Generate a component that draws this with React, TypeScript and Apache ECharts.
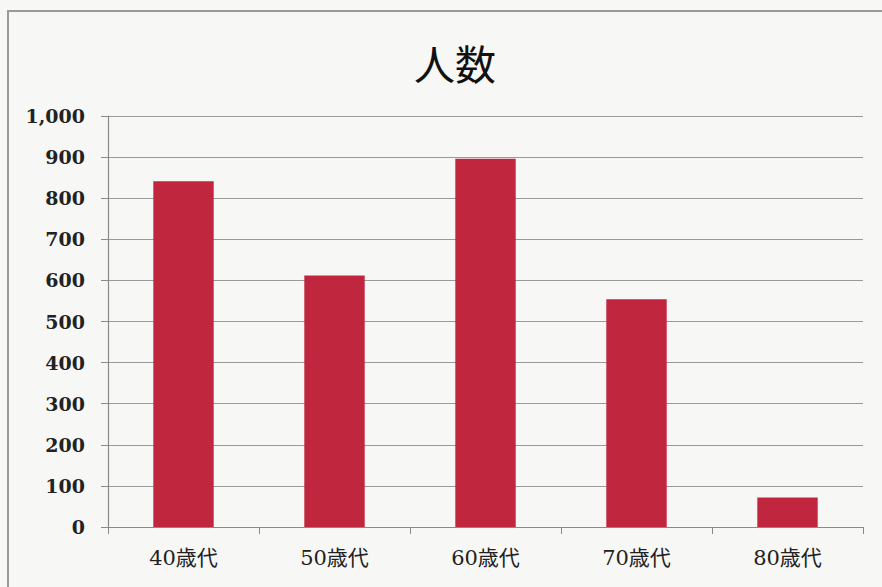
import React, { useEffect, useRef } from "react";
import * as echarts from "echarts";

const titleText = "人数";
const categories = ["40歳代", "50歳代", "60歳代", "70歳代", "80歳代"];
const counts = [841, 612, 896, 554, 72];
const yMin = 0;
const yMax = 1000;
const yStep = 100;

export default function App() {
  const ref = useRef<HTMLDivElement>(null);
  useEffect(() => {
    if (!ref.current) return;
    const chart = echarts.init(ref.current, null, { renderer: "svg" });
    chart.setOption({
      animation: false,
      backgroundColor: "#f7f7f6",
      title: {
        text: titleText,
        left: 409,
        top: 36,
        textStyle: {
          fontFamily: "'Noto Sans CJK JP', sans-serif",
          fontSize: 41,
          fontWeight: "normal",
          color: "#111",
        },
      },
      graphic: [
        {
          type: "rect",
          shape: { x: 8, y: 11, width: 900, height: 600 },
          style: { fill: "none", stroke: "#9a9a9a", lineWidth: 2 },
          silent: true,
        },
      ],
      grid: { left: 108, right: 19, top: 116, bottom: 60 },
      xAxis: {
        type: "category",
        data: categories,
        axisLine: { show: true, lineStyle: { color: "#8a8a8a", width: 1.2 } },
        axisTick: { show: true, length: 7, lineStyle: { color: "#8a8a8a" } },
        axisLabel: {
          margin: 20,
          fontFamily: "'DejaVu Serif', 'Noto Sans CJK JP', serif",
          fontSize: 21,
          color: "#222",
        },
      },
      yAxis: {
        type: "value",
        min: yMin,
        max: yMax,
        interval: yStep,
        axisLine: { show: true, lineStyle: { color: "#8a8a8a", width: 1.2 } },
        axisTick: { show: true, length: 7, lineStyle: { color: "#8a8a8a" } },
        splitLine: { show: true, lineStyle: { color: "#9a9a9a", width: 1.2 } },
        axisLabel: {
          margin: 23,
          fontFamily: "'DejaVu Serif', serif",
          fontWeight: "bold",
          fontSize: 19,
          color: "#222",
          formatter: (v: number) => v.toLocaleString("en-US"),
        },
      },
      series: [
        {
          type: "bar",
          data: counts,
          barWidth: "40%",
          itemStyle: { color: "#c1263f" },
        },
      ],
    });
    return () => chart.dispose();
  }, []);
  return (
    <div
      ref={ref}
      style={{ position: "fixed", left: 0, top: 0, width: 882, height: 587 }}
    />
  );
}
